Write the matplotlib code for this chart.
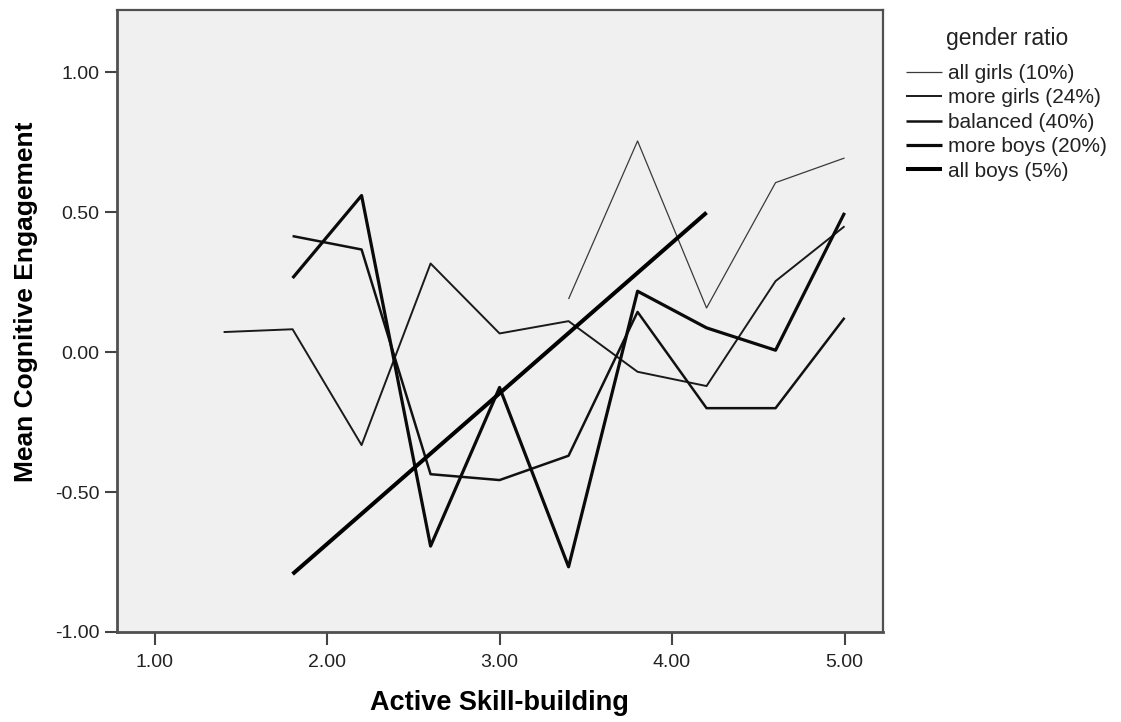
import numpy as np
import matplotlib.pyplot as plt

plt.rcParams['font.family'] = ['Liberation Sans', 'DejaVu Sans']

# mean cognitive engagement by active skill-building, per gender ratio group
series_names = ['all girls (10%)', 'more girls (24%)', 'balanced (40%)',
                'more boys (20%)', 'all boys (5%)']

x_all_girls = [3.4, 3.8, 4.2, 4.6, 5.0]
y_all_girls = [0.19, 0.755, 0.158, 0.606, 0.694]

x_more_girls = [1.4, 1.8, 2.2, 2.6, 3.0, 3.4, 3.8, 4.2, 4.6, 5.0]
y_more_girls = [0.072, 0.082, -0.332, 0.317, 0.067, 0.111, -0.070, -0.121, 0.254, 0.45]

x_balanced = [1.8, 2.2, 2.6, 3.0, 3.4, 3.8, 4.2, 4.6, 5.0]
y_balanced = [0.415, 0.367, -0.436, -0.457, -0.37, 0.144, -0.20, -0.20, 0.123]

x_more_boys = [1.8, 2.2, 2.6, 3.0, 3.4, 3.8, 4.2, 4.6, 5.0]
y_more_boys = [0.265, 0.56, -0.693, -0.126, -0.767, 0.218, 0.087, 0.007, 0.498]

x_all_boys = [1.8, 4.2]
y_all_boys = [-0.793, 0.499]

xs = [x_all_girls, x_more_girls, x_balanced, x_more_boys, x_all_boys]
ys = [y_all_girls, y_more_girls, y_balanced, y_more_boys, y_all_boys]
widths = [0.9, 1.4, 1.8, 2.3, 2.9]
colors = ['#3a3a3a', '#1a1a1a', '#111111', '#0a0a0a', '#000000']

W, H = 1121, 722
fig = plt.figure(figsize=(W / 100, H / 100), dpi=100)
ax = fig.add_axes([117 / W, 90 / H, 766 / W, 622 / H])
ax.set_facecolor('#f0f0f0')

for xv, yv, name, w, c in zip(xs, ys, series_names, widths, colors):
    ax.plot(xv, yv, color=c, lw=w, label=name, solid_capstyle='butt')

ax.set_xlim(0.782, 5.223)
ax.set_ylim(-1.0, 1.223)
ax.set_xticks([1, 2, 3, 4, 5])
ax.set_yticks([-1, -0.5, 0, 0.5, 1])
ax.xaxis.set_major_formatter(plt.FormatStrFormatter('%.2f'))
ax.yaxis.set_major_formatter(plt.FormatStrFormatter('%.2f'))
ax.tick_params(direction='out', length=9, width=1.5, color='#444444',
               labelsize=14, labelcolor='#222222', pad=3.5)
ax.tick_params(axis='x', pad=7)

for side in ['left', 'bottom']:
    ax.spines[side].set_color('#505050')
    ax.spines[side].set_linewidth(2)
for side in ['top', 'right']:
    ax.spines[side].set_color('#505050')
    ax.spines[side].set_linewidth(1.6)

ax.set_xlabel('Active Skill-building', fontsize=19.5, fontweight='bold',
              va='center', ha='center')
ax.set_ylabel('Mean Cognitive Engagement', fontsize=19, fontweight='bold',
              va='center', ha='center')
ax.xaxis.set_label_coords((499 - 117) / 766, -(703 - 632) / 622)
ax.yaxis.set_label_coords((26 - 117) / 766, (632 - 302) / 622)

fig.text(1007 / W, 1 - 38 / H, 'gender ratio', fontsize=16.5, color='#222222',
         ha='center', va='center')
leg = ax.legend(loc='upper left', bbox_to_anchor=(906 / W, 1 - 64 / H),
                bbox_transform=fig.transFigure, frameon=False,
                fontsize=15, handlelength=1.75, handletextpad=0.25,
                labelspacing=0.26, borderaxespad=0, borderpad=0)
for t in leg.get_texts():
    t.set_color('#222222')

fig.savefig('out.png', dpi=100)
